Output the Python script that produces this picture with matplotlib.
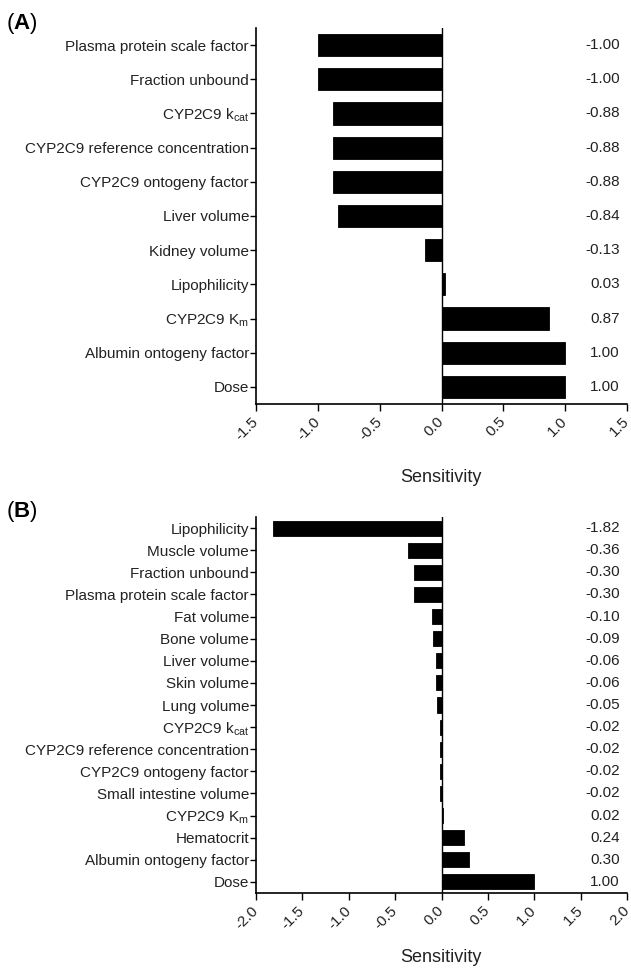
import matplotlib
matplotlib.use('Agg')
import matplotlib.pyplot as plt
import matplotlib.transforms as mtransforms

plt.rcParams['font.family'] = ['Liberation Sans', 'DejaVu Sans']
plt.rcParams['mathtext.fontset'] = 'custom'
plt.rcParams['mathtext.rm'] = 'Liberation Sans'
plt.rcParams['mathtext.it'] = 'Liberation Sans'
plt.rcParams['mathtext.bf'] = 'Liberation Sans:bold'

# Panel A data (top to bottom)
labels_a = ['Plasma protein scale factor', 'Fraction unbound', r'CYP2C9 k$_{\mathrm{cat}}$',
            'CYP2C9 reference concentration', 'CYP2C9 ontogeny factor', 'Liver volume',
            'Kidney volume', 'Lipophilicity', r'CYP2C9 K$_{\mathrm{m}}$',
            'Albumin ontogeny factor', 'Dose']
values_a = [-1.00, -1.00, -0.88, -0.88, -0.88, -0.84, -0.13, 0.03, 0.87, 1.00, 1.00]
ticks_a = [-1.5, -1.0, -0.5, 0.0, 0.5, 1.0, 1.5]

# Panel B data (top to bottom)
labels_b = ['Lipophilicity', 'Muscle volume', 'Fraction unbound', 'Plasma protein scale factor',
            'Fat volume', 'Bone volume', 'Liver volume', 'Skin volume', 'Lung volume',
            r'CYP2C9 k$_{\mathrm{cat}}$', 'CYP2C9 reference concentration',
            'CYP2C9 ontogeny factor', 'Small intestine volume', r'CYP2C9 K$_{\mathrm{m}}$',
            'Hematocrit', 'Albumin ontogeny factor', 'Dose']
values_b = [-1.82, -0.36, -0.30, -0.30, -0.10, -0.09, -0.06, -0.06, -0.05,
            -0.02, -0.02, -0.02, -0.02, 0.02, 0.24, 0.30, 1.00]
ticks_b = [-2.0, -1.5, -1.0, -0.5, 0.0, 0.5, 1.0, 1.5, 2.0]

fig = plt.figure(figsize=(6.31, 9.75), dpi=100)
W, H = 631, 975
FS = 11


def make_axes(top, bottom):
    return fig.add_axes([256 / W, 1 - bottom / H, (627 - 256) / W, (bottom - top) / H])


def draw_panel(ax, labels, values, ticks, height, letter, sens_y, letter_y):
    n = len(labels)
    y = list(range(n))
    ax.barh(y, values, height=height, color='black', edgecolor='black', linewidth=0.6)
    ax.set_ylim(n - 0.5, -0.5)
    ax.set_xlim(ticks[0], ticks[-1])
    ax.axvline(0, color='black', linewidth=1.0)
    ax.set_yticks(y)
    ax.set_yticklabels(labels, fontsize=FS, color='#222222')
    ax.set_xticks(ticks)
    ax.set_xticklabels(['%.1f' % t for t in ticks], fontsize=FS, rotation=45,
                       ha='right', va='center', rotation_mode='anchor', color='#222222')
    for side in ['top', 'right']:
        ax.spines[side].set_visible(False)
    for side in ['left', 'bottom']:
        ax.spines[side].set_linewidth(1.2)
    ax.tick_params(axis='y', length=4, width=1.0, pad=1)
    ax.tick_params(axis='x', length=5, width=1.0, pad=6)
    trans = mtransforms.blended_transform_factory(ax.transAxes, ax.transData)
    for yi, v in zip(y, values):
        ax.text(0.98, yi, '%.2f' % v, transform=trans, ha='right', va='center',
                fontsize=FS, color='#222222')
    fig.text(441 / W, 1 - sens_y / H, 'Sensitivity', ha='center', va='center',
             fontsize=13, color='#222222')
    fig.text(6 / W, 1 - letter_y / H, r'($\mathbf{%s}$)' % letter, ha='left', va='center',
             fontsize=16)


ax_a = make_axes(28, 404)
draw_panel(ax_a, labels_a, values_a, ticks_a, 0.65, 'A', 478, 24)

ax_b = make_axes(517, 893)
draw_panel(ax_b, labels_b, values_b, ticks_b, 0.68, 'B', 958, 512)

fig.savefig('out.png', dpi=100)
